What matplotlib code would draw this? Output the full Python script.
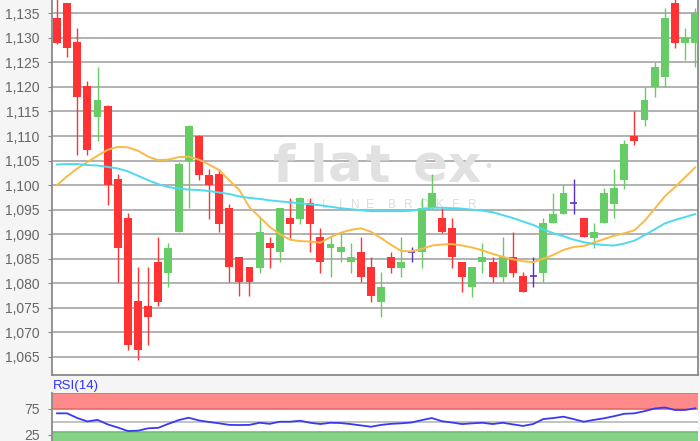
import matplotlib
matplotlib.use("Agg")
import matplotlib.pyplot as plt
import numpy as np

# ---------------- data ----------------
opens = [1.1340, 1.1370, 1.1291, 1.1201, 1.1139, 1.1162, 1.1012, 1.0933, 1.0765, 1.0754,
         1.0843, 1.0821, 1.0904, 1.1050, 1.1101, 1.1021, 1.1022, 1.0954, 1.0853, 1.0833,
         1.0831, 1.0883, 1.0863, 1.0933, 1.0932, 1.0963, 1.0894, 1.0871, 1.0863, 1.0843,
         1.0863, 1.0833, 1.0763, 1.0853, 1.0831, 1.0863, 1.0863, 1.0953, 1.0933, 1.0912,
         1.0843, 1.0792, 1.0843, 1.0843, 1.0812, 1.0853, 1.0814, 1.0814, 1.0821, 1.0922,
         1.0942, 1.0963, 1.0933, 1.0893, 1.0922, 1.0961, 1.1010, 1.1101, 1.1132, 1.1200,
         1.1220, 1.1370, 1.1289, 1.1289]
highs = [1.1390, 1.1372, 1.1320, 1.1213, 1.1240, 1.1163, 1.1022, 1.0944, 1.0833, 1.0833,
         1.0894, 1.0883, 1.1048, 1.1122, 1.1102, 1.1032, 1.1032, 1.0961, 1.0853, 1.0833,
         1.0933, 1.0894, 1.0953, 1.0973, 1.0975, 1.0973, 1.0912, 1.0894, 1.0904, 1.0883,
         1.0894, 1.0853, 1.0823, 1.0863, 1.0894, 1.0873, 1.0973, 1.1023, 1.0953, 1.0933,
         1.0843, 1.0833, 1.0883, 1.0853, 1.0894, 1.0904, 1.0823, 1.0853, 1.0933, 1.0983,
         1.1000, 1.1012, 1.0933, 1.0922, 1.0994, 1.1032, 1.1091, 1.1152, 1.1200, 1.1251,
         1.1360, 1.1385, 1.1320, 1.1360]
lows = [1.1288, 1.1261, 1.1061, 1.1061, 1.1090, 1.0960, 1.0802, 1.0664, 1.0643, 1.0674,
        1.0754, 1.0792, 1.0904, 1.0953, 1.1010, 1.0931, 1.0904, 1.0802, 1.0774, 1.0774,
        1.0821, 1.0831, 1.0843, 1.0892, 1.0921, 1.0863, 1.0821, 1.0812, 1.0843, 1.0821,
        1.0802, 1.0763, 1.0731, 1.0821, 1.0812, 1.0843, 1.0831, 1.0952, 1.0903, 1.0831,
        1.0782, 1.0772, 1.0821, 1.0802, 1.0802, 1.0812, 1.0782, 1.0792, 1.0802, 1.0922,
        1.0942, 1.0942, 1.0894, 1.0871, 1.0922, 1.0933, 1.0992, 1.1081, 1.1120, 1.1179,
        1.1200, 1.1279, 1.1254, 1.1240]
closes = [1.1289, 1.1279, 1.1179, 1.1071, 1.1173, 1.1000, 1.0871, 1.0674, 1.0664, 1.0731,
          1.0763, 1.0872, 1.1044, 1.1121, 1.1021, 1.1000, 1.0921, 1.0833, 1.0802, 1.0802,
          1.0904, 1.0871, 1.0953, 1.0921, 1.0973, 1.0921, 1.0843, 1.0881, 1.0873, 1.0853,
          1.0812, 1.0774, 1.0792, 1.0831, 1.0843, 1.0863, 1.0953, 1.0983, 1.0904, 1.0853,
          1.0812, 1.0833, 1.0853, 1.0812, 1.0853, 1.0821, 1.0782, 1.0814, 1.0922, 1.0942,
          1.0983, 1.0963, 1.0894, 1.0904, 1.0983, 1.0994, 1.1083, 1.1090, 1.1173, 1.1240,
          1.1341, 1.1289, 1.1301, 1.1350]

ma_fast = [1.1000, 1.1018, 1.1034, 1.1047, 1.1060, 1.1072, 1.1078, 1.1077, 1.1070, 1.1058,
           1.1051, 1.1052, 1.1057, 1.1058, 1.1052, 1.1042, 1.1031, 1.1010, 1.0990, 1.0955,
           1.0935, 1.0915, 1.0900, 1.0889, 1.0886, 1.0885, 1.0883, 1.0894, 1.0903, 1.0909,
           1.0912, 1.0905, 1.0892, 1.0878, 1.0866, 1.0865, 1.0870, 1.0877, 1.0879, 1.0880,
           1.0877, 1.0873, 1.0867, 1.0860, 1.0854, 1.0849, 1.0845, 1.0843, 1.0850, 1.0858,
           1.0868, 1.0874, 1.0876, 1.0883, 1.0890, 1.0897, 1.0902, 1.0908, 1.0927, 1.0952,
           1.0977, 1.0996, 1.1016, 1.1036]
ma_slow = [1.1042, 1.1043, 1.1043, 1.1041, 1.1040, 1.1037, 1.1034, 1.1028, 1.1019, 1.1010,
           1.1002, 1.0996, 1.0993, 1.0991, 1.0990, 1.0988, 1.0985, 1.0982, 1.0977, 1.0974,
           1.0972, 1.0969, 1.0967, 1.0965, 1.0963, 1.0961, 1.0959, 1.0956, 1.0953, 1.0951,
           1.0949, 1.0947, 1.0947, 1.0947, 1.0947, 1.0948, 1.0951, 1.0954, 1.0954, 1.0953,
           1.0952, 1.0950, 1.0948, 1.0945, 1.0939, 1.0933, 1.0926, 1.0919, 1.0910, 1.0902,
           1.0896, 1.0889, 1.0884, 1.0880, 1.0878, 1.0877, 1.0881, 1.0887, 1.0898, 1.0910,
           1.0922, 1.0929, 1.0935, 1.0941]
rsi = [65.9, 65.9, 57.0, 50.5, 53.5, 45.0, 39.0, 32.4, 33.0, 37.5,
       38.5, 46.0, 53.0, 57.5, 52.5, 49.5, 47.0, 44.0, 43.7, 44.0,
       48.0, 46.0, 50.0, 50.0, 51.9, 48.0, 45.6, 48.0, 47.5, 45.5,
       43.0, 40.5, 44.0, 46.0, 47.0, 48.5, 53.0, 57.0, 51.0, 48.5,
       45.5, 47.0, 48.0, 45.6, 48.0, 45.0, 42.0, 45.6, 55.0, 57.0,
       59.5, 55.0, 50.0, 53.5, 56.5, 60.5, 65.0, 65.9, 70.0, 75.0,
       77.0, 72.2, 72.2, 75.4]

price_ticks = [1.065, 1.070, 1.075, 1.080, 1.085, 1.090, 1.095, 1.100,
               1.105, 1.110, 1.115, 1.120, 1.125, 1.130, 1.135]
price_labels = ["1,065", "1,070", "1,075", "1,080", "1,085", "1,090", "1,095", "1,100",
                "1,105", "1,110", "1,115", "1,120", "1,125", "1,130", "1,135"]
rsi_ticks = [25, 75]
rsi_labels = ["25", "75"]
rsi_title = "RSI(14)"

# ---------------- style ----------------
W, H = 700, 441
FONT = "Liberation Sans"
RED = "#ff3333"
GREEN = "#66cc66"
DOJI = "#5a2fd0"
GRID = "#ababab"
SPINE = "#8a8a8a"
TXT = "#666666"

fig = plt.figure(figsize=(W / 100, H / 100), dpi=100)
fig.patch.set_facecolor("#f5f5f5")

def fx(px):
    return px / W

def fy(py):
    return 1 - py / H

ax = fig.add_axes([fx(52), fy(375), fx(698) - fx(52), 1 - fy(375)])
ax.set_facecolor("white")
n = len(opens)
x = np.arange(n)
ax.set_xlim(-0.494, 63.28)
ax.set_ylim(1.06133, 1.13771)

for yv in price_ticks:
    ax.axhline(yv, color=GRID, lw=1.3, zorder=1)

# watermark
wm_letters = ["f", "l", "a", "t", "e", "x"]
wm_x = [284, 318, 345, 378, 430, 464]
for ch, px in zip(wm_letters, wm_x):
    ax.text(fx(px), fy(182), ch, transform=fig.transFigure, ha="center", va="baseline",
            fontsize=37, fontweight="bold", color="#e1e1e1", family="DejaVu Sans",
            zorder=1.5, clip_on=False)
ax.text(fx(488), fy(167), "\u2022", transform=fig.transFigure, ha="center", va="center",
        fontsize=12, color="#e1e1e1", zorder=1.5)
sub = "ONLINE BROKER"
sub_x = [295, 310, 325, 340, 355, 370, None, 392, 408, 424, 440, 456, 472]
for ch, px in zip(sub, sub_x):
    if px is None:
        continue
    ax.text(fx(px), fy(205), ch, transform=fig.transFigure, ha="center", va="center",
            fontsize=8.5, color="#dcdcdc", family=FONT, zorder=1.5)

o = np.array(opens); c = np.array(closes); h = np.array(highs); l = np.array(lows)
cols = np.where(c > o, GREEN, np.where(c < o, RED, DOJI))
body_w = 0.78
ax.vlines(x, l, h, colors=cols, lw=1.0, zorder=3)
is_doji = c == o
ax.bar(x[~is_doji], np.abs(c - o)[~is_doji], bottom=np.minimum(o, c)[~is_doji],
       width=body_w, color=cols[~is_doji], edgecolor="none", zorder=4)
ax.hlines(o[is_doji], x[is_doji] - 0.35, x[is_doji] + 0.35, colors=DOJI, lw=1.2, zorder=4)

ax.plot(x, ma_fast, color="#fbb945", lw=1.4, zorder=5)
ax.plot(x, ma_slow, color="#4fd9f0", lw=1.4, zorder=5)

ax.set_yticks(price_ticks)
ax.set_yticklabels(price_labels)
ax.set_xticks([])
ax.tick_params(axis="y", length=3, color=SPINE, pad=6, labelsize=10, labelcolor=TXT)
for lab in ax.get_yticklabels():
    lab.set_family(FONT)
for s in ["left", "bottom", "right"]:
    ax.spines[s].set_color(SPINE)
    ax.spines[s].set_linewidth(1.3)
ax.spines["top"].set_visible(False)

# ---------------- RSI panel ----------------
rax = fig.add_axes([fx(52), fy(470), fx(698) - fx(52), fy(392.7) - fy(470)])
rax.set_facecolor("white")
rax.set_xlim(-0.494, 63.28)
rax.set_ylim(-41.5, 105)
rax.axhspan(74, 105, facecolor="#ff8a8a", edgecolor="none", zorder=1)
rax.axhline(74, color="#e86a6a", lw=1.2, zorder=1.2)
rax.axhline(104.5, color="#e86a6a", lw=1.2, zorder=1.2)
rax.axhspan(-41.5, 31, facecolor="#85d185", edgecolor="none", zorder=1)
rax.axhline(31, color="#6cc06c", lw=1.2, zorder=1.2)
rax.axhline(50, color="#bdbdbd", lw=1.3, zorder=1.1)
rax.plot(x, rsi, color="#3a3af0", lw=1.3, zorder=3)
rax.set_yticks(rsi_ticks)
rax.set_yticklabels(rsi_labels)
rax.set_xticks([])
rax.tick_params(axis="y", length=3, color=SPINE, pad=6, labelsize=10, labelcolor=TXT)
for lab in rax.get_yticklabels():
    lab.set_family(FONT)
for s in ["top", "right", "bottom"]:
    rax.spines[s].set_visible(False)
rax.spines["left"].set_color(SPINE)
rax.spines["left"].set_linewidth(1.3)

fig.text(fx(53), fy(385.5), rsi_title, ha="left", va="center", fontsize=9.5,
         color="#3333ff", family=FONT)

fig.savefig("out.png", dpi=100, facecolor=fig.get_facecolor())
